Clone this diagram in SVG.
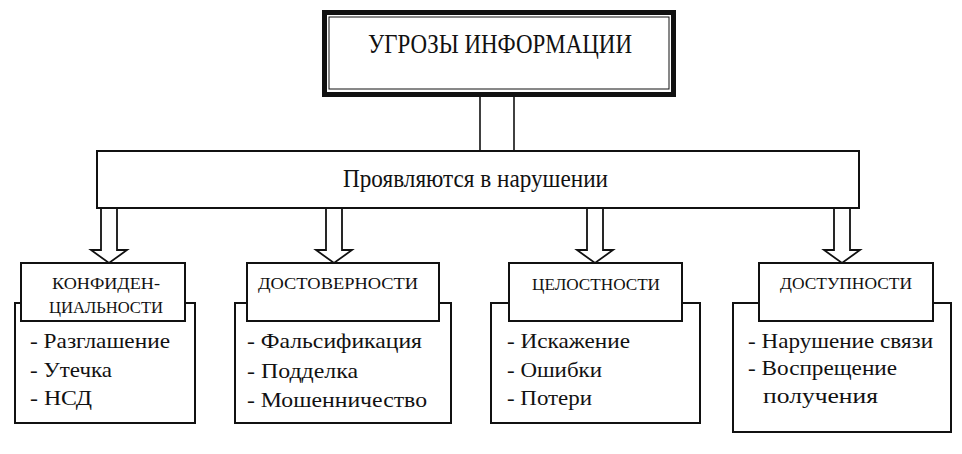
<svg xmlns="http://www.w3.org/2000/svg" width="962" height="454" viewBox="0 0 962 454">
<style>
.bg{fill:#ffffff}
.box{fill:#ffffff;stroke:#111;stroke-width:2}
.line{fill:none;stroke:#111;stroke-width:1.6}
.arrow{fill:#ffffff;stroke:#111;stroke-width:1.8;stroke-linejoin:miter}
text{font-family:"Liberation Serif","Times New Roman",serif;fill:#111}
.title{font-size:27px}
.mid{font-size:25px}
.lab{font-size:16px}
.item{font-size:22px}
</style>
<rect class="bg" x="0" y="0" width="962" height="454"/>
<g id="connectors">
  <line class="line" x1="480" y1="97" x2="480" y2="152"/>
  <line class="line" x1="514" y1="97" x2="514" y2="152"/>
  <polygon class="arrow" points="101,208 117,208 117,250 127,250 109,263 91,250 101,250"/>
  <polygon class="arrow" points="326,208 342,208 342,250 352,250 334,263 316,250 326,250"/>
  <polygon class="arrow" points="587,208 603,208 603,250 613,250 595,263 577,250 587,250"/>
  <polygon class="arrow" points="834,208 850,208 850,250 860,250 842,263 824,250 834,250"/>
</g>
<g id="title">
  <rect x="324.5" y="12.5" width="349" height="82" fill="#fff" stroke="#111" stroke-width="5"/>
  <rect x="329" y="17" width="340" height="72" fill="none" stroke="#111" stroke-width="1"/>
  <text class="title" x="500" y="53" text-anchor="middle" textLength="264" lengthAdjust="spacingAndGlyphs">УГРОЗЫ ИНФОРМАЦИИ</text>
</g>
<g id="manifest">
  <rect class="box" x="97" y="151" width="762" height="57"/>
  <text class="mid" x="343" y="187" textLength="265" lengthAdjust="spacingAndGlyphs">Проявляются в нарушении</text>
</g>
<g id="conf">
  <rect class="box" x="15" y="303" width="180" height="120"/>
  <rect class="box" x="21" y="263" width="164" height="58"/>
  <text class="lab" x="52" y="289" textLength="108" lengthAdjust="spacingAndGlyphs">КОНФИДЕН-</text>
  <text class="lab" x="49" y="313" textLength="114" lengthAdjust="spacingAndGlyphs">ЦИАЛЬНОСТИ</text>
  <text class="item" x="30" y="348" textLength="140" lengthAdjust="spacingAndGlyphs">- Разглашение</text>
  <text class="item" x="30" y="377" textLength="82" lengthAdjust="spacingAndGlyphs">- Утечка</text>
  <text class="item" x="30" y="405" textLength="62" lengthAdjust="spacingAndGlyphs">- НСД</text>
</g>
<g id="dost">
  <rect class="box" x="235" y="303" width="216" height="120"/>
  <rect class="box" x="247" y="263" width="192" height="58"/>
  <text class="lab" x="258" y="289" textLength="160" lengthAdjust="spacingAndGlyphs">ДОСТОВЕРНОСТИ</text>
  <text class="item" x="247" y="348" textLength="175" lengthAdjust="spacingAndGlyphs">- Фальсификация</text>
  <text class="item" x="247" y="378" textLength="111" lengthAdjust="spacingAndGlyphs">- Подделка</text>
  <text class="item" x="247" y="407" textLength="180" lengthAdjust="spacingAndGlyphs">- Мошенничество</text>
</g>
<g id="cel">
  <rect class="box" x="491" y="303" width="209" height="120"/>
  <rect class="box" x="509" y="263" width="173" height="58"/>
  <text class="lab" x="532" y="290" textLength="128" lengthAdjust="spacingAndGlyphs">ЦЕЛОСТНОСТИ</text>
  <text class="item" x="507" y="348" textLength="123" lengthAdjust="spacingAndGlyphs">- Искажение</text>
  <text class="item" x="507" y="377" textLength="95" lengthAdjust="spacingAndGlyphs">- Ошибки</text>
  <text class="item" x="507" y="405" textLength="85" lengthAdjust="spacingAndGlyphs">- Потери</text>
</g>
<g id="dostup">
  <rect class="box" x="733" y="303" width="218" height="129"/>
  <rect class="box" x="759" y="263" width="174" height="58"/>
  <text class="lab" x="780" y="289" textLength="132" lengthAdjust="spacingAndGlyphs">ДОСТУПНОСТИ</text>
  <text class="item" x="748" y="348" textLength="185" lengthAdjust="spacingAndGlyphs">- Нарушение связи</text>
  <text class="item" x="748" y="375" textLength="149" lengthAdjust="spacingAndGlyphs">- Воспрещение</text>
  <text class="item" x="763" y="403" textLength="115" lengthAdjust="spacingAndGlyphs">получения</text>
</g>
</svg>
